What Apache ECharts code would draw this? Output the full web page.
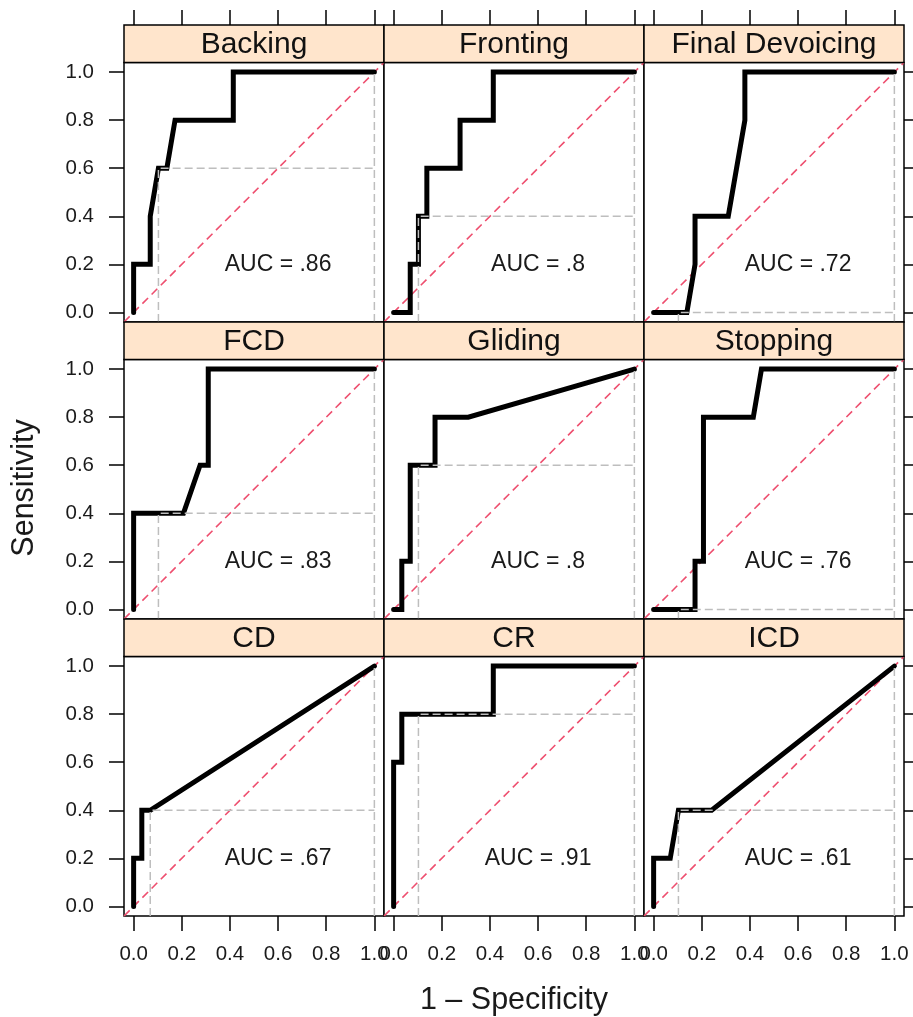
<!DOCTYPE html>
<html>
<head>
<meta charset="utf-8">
<script src="https://cdn.jsdelivr.net/npm/echarts@6/dist/echarts.min.js"></script>
<style>
  html, body { margin: 0; padding: 0; background: #fff; }
  #main { width: 913px; height: 1017px; }
</style>
</head>
<body>
<div id="main"></div>
<script>
// Panel titles, in reading order (3 x 3 lattice)
const panelNames = ['Backing', 'Fronting', 'Final Devoicing', 'FCD', 'Gliding', 'Stopping', 'CD', 'CR', 'ICD'];
const aucLabels = ['.86', '.8', '.72', '.83', '.8', '.76', '.67', '.91', '.61'];

// ROC curves: [1 - specificity, sensitivity]
const rocBacking = [[0, 0], [0, 0.2], [0.069, 0.2], [0.069, 0.4], [0.103, 0.6], [0.138, 0.6], [0.172, 0.8], [0.414, 0.8], [0.414, 1], [1, 1]];
const rocFronting = [[0, 0], [0.069, 0], [0.069, 0.2], [0.103, 0.2], [0.103, 0.4], [0.138, 0.4], [0.138, 0.6], [0.276, 0.6], [0.276, 0.8], [0.414, 0.8], [0.414, 1], [1, 1]];
const rocFinalDevoicing = [[0, 0], [0.138, 0], [0.172, 0.2], [0.172, 0.4], [0.31, 0.4], [0.379, 0.8], [0.379, 1], [1, 1]];
const rocFCD = [[0, 0], [0, 0.4], [0.207, 0.4], [0.276, 0.6], [0.31, 0.6], [0.31, 1], [1, 1]];
const rocGliding = [[0, 0], [0.034, 0], [0.034, 0.2], [0.069, 0.2], [0.069, 0.6], [0.172, 0.6], [0.172, 0.8], [0.31, 0.8], [1, 1]];
const rocStopping = [[0, 0], [0.172, 0], [0.172, 0.2], [0.207, 0.2], [0.207, 0.8], [0.414, 0.8], [0.448, 1], [1, 1]];
const rocCD = [[0, 0], [0, 0.2], [0.034, 0.2], [0.034, 0.4], [0.069, 0.4], [1, 1]];
const rocCR = [[0, 0], [0, 0.6], [0.034, 0.6], [0.034, 0.8], [0.414, 0.8], [0.414, 1], [1, 1]];
const rocICD = [[0, 0], [0, 0.2], [0.069, 0.2], [0.103, 0.4], [0.241, 0.4], [1, 1]];

// Best cut-off point of each curve
const cutoffFpr = [0.103, 0.103, 0.103, 0.103, 0.103, 0.103, 0.069, 0.103, 0.103];
const cutoffTpr = [0.6, 0.4, 0, 0.4, 0.6, 0, 0.4, 0.8, 0.4];

// Axis ticks
const tickValues = [0, 0.2, 0.4, 0.6, 0.8, 1.0];
const tickLabels = ['0.0', '0.2', '0.4', '0.6', '0.8', '1.0'];

const rocCurves = [rocBacking, rocFronting, rocFinalDevoicing, rocFCD, rocGliding, rocStopping, rocCD, rocCR, rocICD];

// Layout
const FONT = '"Liberation Sans", Arial, Helvetica, sans-serif';
const LEFT = 124, COLW = 260, TOP = 25, STRIPH = 37.5, PLOTH = 259.5;
const LO = -0.04, HI = 1.04;
const TEXT = '#1a1a1a';

const labelFmt = v => {
  const k = tickValues.findIndex(t => Math.abs(t - v) < 1e-9);
  return k >= 0 ? tickLabels[k] : '';
};
const tickStyle = { color: '#000', width: 1.5 };
const hiddenLine = { show: false, onZero: false };

const grids = [], xAxes = [], yAxes = [], series = [], graphics = [];

panelNames.forEach((name, i) => {
  const r = Math.floor(i / 3), c = i % 3;
  const left = LEFT + c * COLW;
  const rowTop = TOP + r * (STRIPH + PLOTH);
  const plotTop = rowTop + STRIPH;

  grids.push({
    left: left, top: plotTop, width: COLW, height: PLOTH,
    show: true, borderColor: '#000', borderWidth: 1.5, backgroundColor: '#fff'
  });

  const xi = xAxes.length;
  xAxes.push({
    gridIndex: i, type: 'value', min: LO, max: HI, position: 'bottom',
    axisLine: hiddenLine, splitLine: { show: false },
    axisTick: { show: r === 2, customValues: tickValues, length: 15, lineStyle: tickStyle },
    axisLabel: { show: r === 2, customValues: tickValues, formatter: labelFmt, margin: 28,
                 fontSize: 20.5, color: TEXT, fontFamily: FONT }
  });
  if (r === 0) {
    xAxes.push({
      gridIndex: i, type: 'value', min: LO, max: HI, position: 'top', offset: STRIPH,
      axisLine: hiddenLine, splitLine: { show: false },
      axisTick: { show: true, customValues: tickValues, length: 15, lineStyle: tickStyle },
      axisLabel: { show: false }
    });
  }
  const yi = yAxes.length;
  yAxes.push({
    gridIndex: i, type: 'value', min: LO, max: HI, position: 'left',
    axisLine: hiddenLine, splitLine: { show: false },
    axisTick: { show: c === 0, customValues: tickValues, length: 15, lineStyle: tickStyle },
    axisLabel: { show: c === 0, customValues: tickValues, formatter: labelFmt, margin: 30,
                 fontSize: 20.5, color: TEXT, fontFamily: FONT }
  });
  if (c === 2) {
    yAxes.push({
      gridIndex: i, type: 'value', min: LO, max: HI, position: 'right',
      axisLine: hiddenLine, splitLine: { show: false },
      axisTick: { show: true, customValues: tickValues, length: 15, lineStyle: tickStyle },
      axisLabel: { show: false }
    });
  }

  // Chance diagonal
  series.push({
    type: 'line', xAxisIndex: xi, yAxisIndex: yi, data: [[LO, LO], [HI, HI]],
    symbol: 'none', silent: true, z: 2,
    lineStyle: { color: '#EE4F6F', width: 1.6, type: [8, 5] }
  });
  // ROC curve
  series.push({
    type: 'line', xAxisIndex: xi, yAxisIndex: yi, data: rocCurves[i],
    symbol: 'none', silent: true, z: 3,
    lineStyle: { color: '#000', width: 5, join: 'miter', cap: 'round' }
  });
  // Cut-off guides
  const xs = cutoffFpr[i], ys = cutoffTpr[i];
  series.push({
    type: 'line', xAxisIndex: xi, yAxisIndex: yi, data: [[xs, LO], [xs, ys], [1, ys]],
    symbol: 'none', silent: true, z: 4,
    lineStyle: { color: '#BEBEBE', width: 1.5, type: [8, 4] }
  });
  series.push({
    type: 'line', xAxisIndex: xi, yAxisIndex: yi, data: [[1, LO], [1, 1]],
    symbol: 'none', silent: true, z: 4,
    lineStyle: { color: '#BEBEBE', width: 1.5, type: [8, 4] }
  });
  // AUC annotation
  series.push({
    type: 'scatter', xAxisIndex: xi, yAxisIndex: yi, data: [[0.6, 0.2]],
    symbolSize: 1, itemStyle: { color: 'rgba(0,0,0,0)' }, silent: true, z: 5,
    label: { show: true, position: 'inside', formatter: 'AUC = ' + aucLabels[i],
             fontSize: 23, color: TEXT, opacity: 1, textBorderWidth: 0,
             fontFamily: FONT }
  });

  // Strip with the panel title
  graphics.push({
    type: 'rect', shape: { x: left, y: rowTop, width: COLW, height: STRIPH },
    style: { fill: '#FFE5CC', stroke: '#000', lineWidth: 1.5 }, z: 10
  });
  graphics.push({
    type: 'text', x: left + COLW / 2, y: rowTop + STRIPH / 2 + 1,
    style: { text: name, fontSize: 30, fontFamily: FONT, fill: '#111',
             textAlign: 'center', textVerticalAlign: 'middle' }, z: 11
  });
});

// Axis titles
graphics.push({
  type: 'text', x: 25, y: 488, rotation: Math.PI / 2,
  style: { text: 'Sensitivity', fontSize: 30.5, fontFamily: FONT, fill: TEXT,
           textAlign: 'center', textVerticalAlign: 'middle' }
});
graphics.push({
  type: 'text', x: 514, y: 1001,
  style: { text: '1 \u2013 Specificity', fontSize: 30.5, fontFamily: FONT, fill: TEXT,
           textAlign: 'center', textVerticalAlign: 'middle' }
});

const chart = echarts.init(document.getElementById('main'), null, { renderer: 'canvas' });
chart.setOption({
  animation: false,
  backgroundColor: '#fff',
  grid: grids,
  xAxis: xAxes,
  yAxis: yAxes,
  series: series,
  graphic: graphics
});
</script>
</body>
</html>
